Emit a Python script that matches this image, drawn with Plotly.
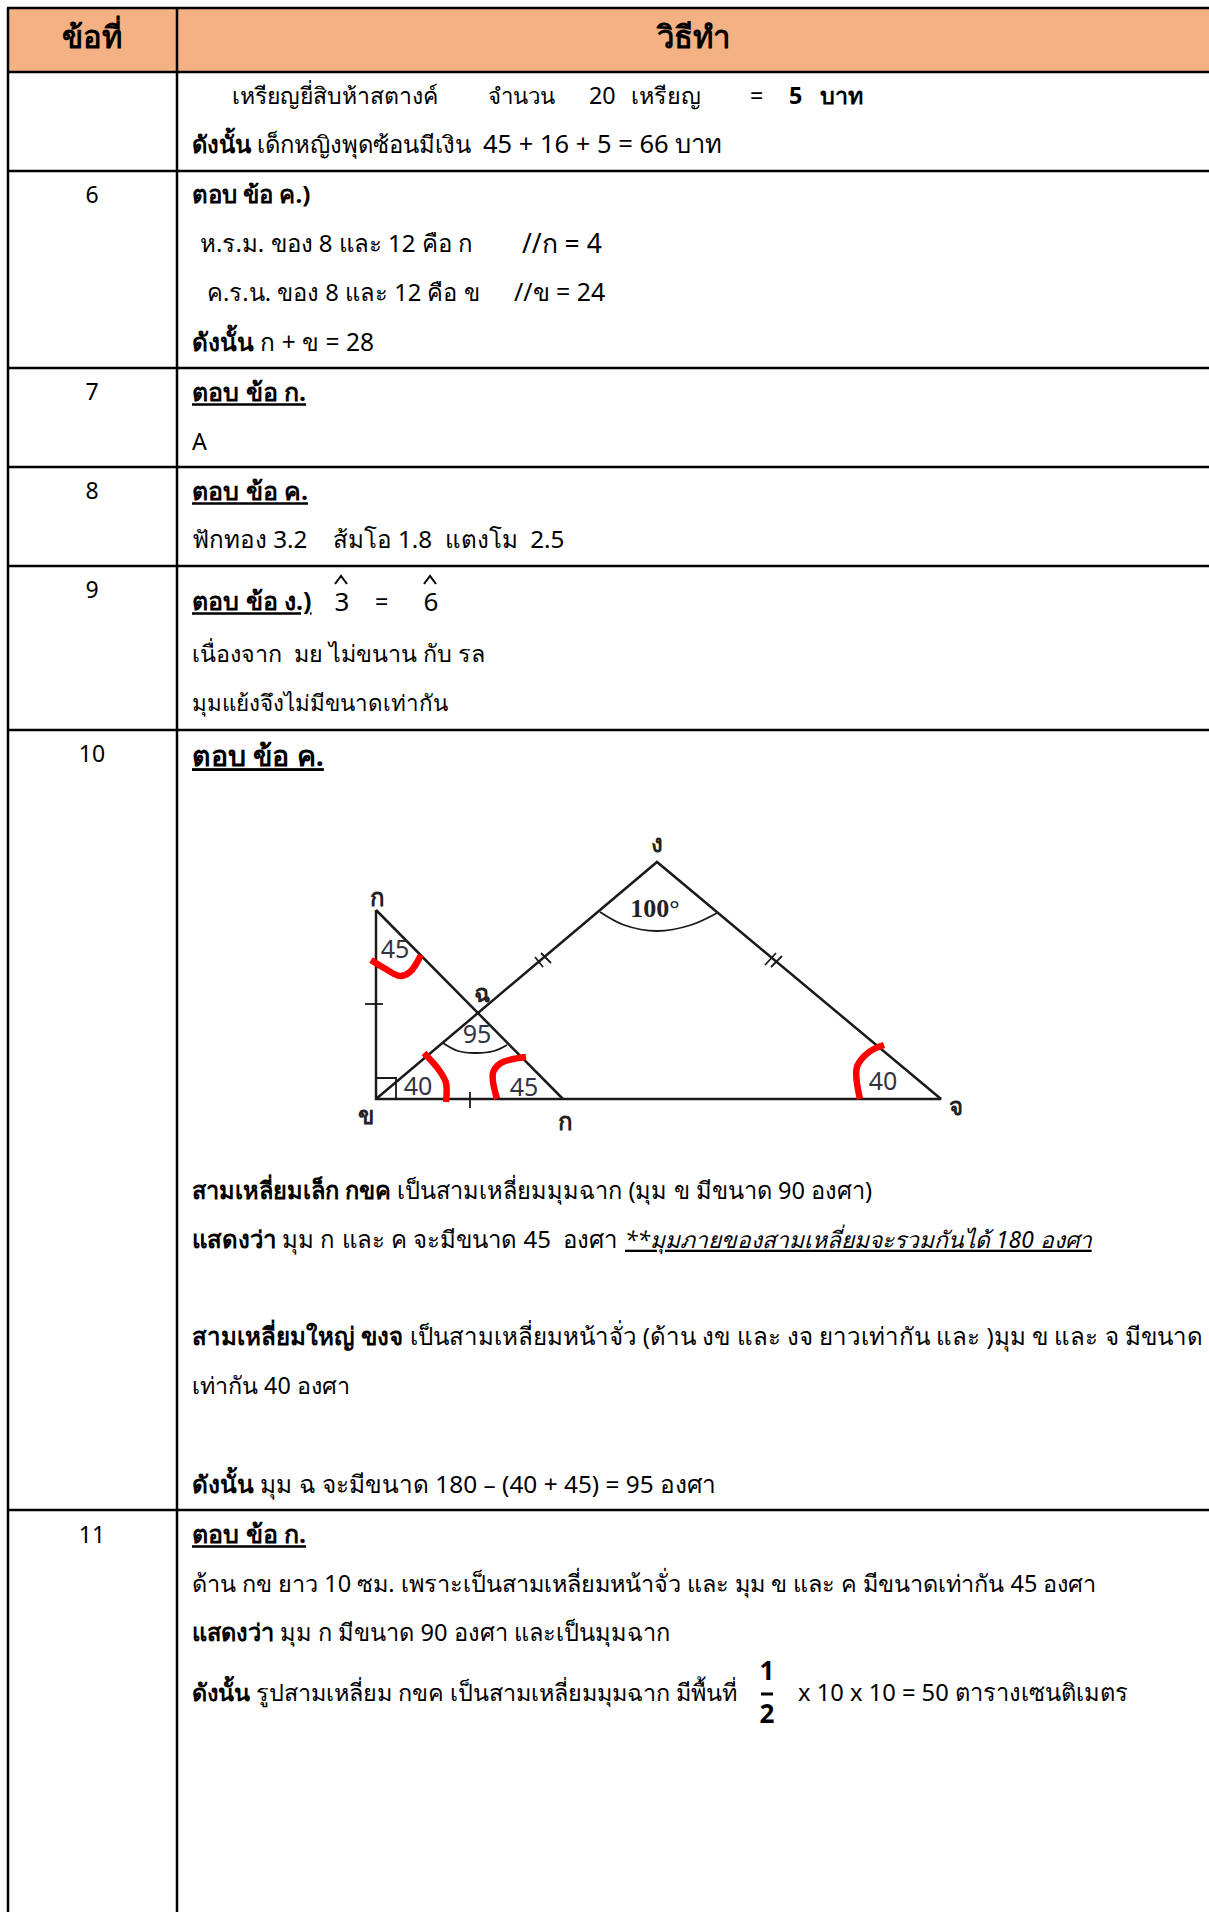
import plotly.graph_objects as go

W, H = 1209, 1912
FONT = "Noto Sans"

# table grid (pixels)
row_edges = [8, 72, 171, 368, 467, 566, 730, 1510]
col_edges = [8, 177]
header_labels = ["ข้อที่", "วิธีทำ"]
header_x = [92, 693]
header_y = [40, 40]

question_numbers = ["6", "7", "8", "9", "10", "11"]
question_y = [197, 394, 493, 592, 756, 1537]
question_x = [92] * len(question_numbers)

# plain lines of the answer column
plain_text = [
    "เหรียญยี่สิบห้าสตางค์", "จำนวน", "20", "เหรียญ", "=", "<b>5</b>", "<b>บาท</b>",
    "<b>ดังนั้น</b> เด็กหญิงพุดซ้อนมีเงิน", "45 + 16 + 5 = 66 บาท",
    "<b>ตอบ ข้อ ค.)</b>",
    "ห.ร.ม. ของ 8 และ 12 คือ ก", "//ก = 4",
    "ค.ร.น. ของ 8 และ 12 คือ ข", "//ข = 24",
    "<b>ดังนั้น</b> ก + ข = 28",
    "A",
    "ฟักทอง 3.2    ส้มโอ 1.8  แตงโม  2.5",
    "=",
    "เนื่องจาก  มย ไม่ขนาน กับ รล",
    "มุมแย้งจึงไม่มีขนาดเท่ากัน",
    "<b>สามเหลี่ยมเล็ก กขค</b> เป็นสามเหลี่ยมมุมฉาก (มุม ข มีขนาด 90 องศา)",
    "<b>แสดงว่า</b> มุม ก และ ค จะมีขนาด 45  องศา",
    "<b>สามเหลี่ยมใหญ่ ขงจ</b> เป็นสามเหลี่ยมหน้าจั่ว (ด้าน งข และ งจ ยาวเท่ากัน และ )มุม ข และ จ มีขนาด",
    "เท่ากัน 40 องศา",
    "<b>ดังนั้น</b> มุม ฉ จะมีขนาด 180 – (40 + 45) = 95 องศา",
    "ด้าน กข ยาว 10 ซม. เพราะเป็นสามเหลี่ยมหน้าจั่ว และ มุม ข และ ค มีขนาดเท่ากัน 45 องศา",
    "<b>แสดงว่า</b> มุม ก มีขนาด 90 องศา และเป็นมุมฉาก",
    "<b>ดังนั้น</b> รูปสามเหลี่ยม กขค เป็นสามเหลี่ยมมุมฉาก มีพื้นที่",
    "x 10 x 10 = 50 ตารางเซนติเมตร",
]
plain_x = [232, 488, 589, 631, 750, 789, 820, 192, 483, 192, 200, 522, 207, 514, 192, 192, 192,
           375, 192, 192, 192, 192, 192, 192, 192, 192, 192, 192, 798]
plain_y = [98, 98, 98, 98, 98, 98, 98, 147, 147, 197, 246, 246, 295, 295, 345, 444, 542,
           604, 656, 705, 1193, 1242, 1339, 1388, 1487, 1586, 1635, 1695, 1695]
plain_size = [23, 22.2, 23.3, 23.3, 23.3, 23.3, 23.3, 23.8, 25.5, 24, 24, 26.5, 23.7, 24.9, 24.5, 23.3, 24.2,
              23.3, 23.3, 22.4, 23.6, 24, 24.1, 23.3, 24.4, 23.5, 23.6, 23.4, 23.7]

# the two angle names with a hat above them
angle_names = ["3", "6"]
angle_name_x = [342, 431]
angle_name_y = [604, 604]
hat_x = [335, 341, 347, None, 424, 430, 436]
hat_y = [584, 576, 584, None, 584, 576, 584]

# underlined bold headings
answer_text = ["ตอบ ข้อ ก.", "ตอบ ข้อ ค.", "ตอบ ข้อ ง.)", "ตอบ ข้อ ค.", "ตอบ ข้อ ก."]
answer_x = [192, 192, 192, 192, 192]
answer_y = [395, 494, 604, 759, 1537]
answer_size = [25, 25, 25, 28.5, 25]
note_text = ["<i>**มุมภายของสามเหลี่ยมจะรวมกันได้ 180 องศา</i>"]

fraction_text = ["1", "2"]

# the triangle figure
figure_outer_x = [376, 376, 941, 657, 376]
figure_outer_y = [910, 1099, 1099, 862, 1099]
figure_inner_x = [376, 563]
figure_inner_y = [910, 1099]
square_x = [376, 396, 396]
square_y = [1078, 1078, 1099]
arc_100_x = [600, 624, 657, 691, 717]
arc_100_y = [912, 925, 931, 925, 913]
arc_95_x = [443, 458, 475, 494, 507]
arc_95_y = [1043, 1051, 1053, 1051, 1045]
tick_x = [365, 383, None, 470, 470, None, 535, 543, None, 541, 551, None, 765, 776, None, 771, 782]
tick_y = [1004, 1004, None, 1092, 1108, None, 957, 967, None, 953, 963, None, 965, 953, None, 967, 956]
red_x = [[371, 384, 400, 410, 421], [424, 439, 446, 446], [526, 501, 493, 497], [884, 869, 857, 860]]
red_y = [[960, 968, 976, 972, 955], [1053, 1070, 1083, 1102], [1057, 1063, 1073, 1099], [1045, 1052, 1067, 1099]]
vertex_labels = ["ก", "ข", "ก", "จ", "ง", "ฉ"]
vertex_x = [377, 366, 565, 956, 657, 482]
vertex_y = [900, 1118, 1124, 1109, 846, 996]
angle_labels = ["45", "95", "40", "45", "40"]
angle_x = [395, 477, 418, 524, 883]
angle_y = [952, 1037, 1089, 1090, 1084]

fig = go.Figure()


def add_text(x, y, text, size, pos="middle right", color="black", family=FONT, lineposition=None):
    font = dict(family=family, size=size, color=color)
    if lineposition:
        font["lineposition"] = lineposition
    fig.add_trace(go.Scatter(x=x, y=y, text=text, mode="text", textposition=pos, textfont=font,
                             cliponaxis=False, hoverinfo="skip", showlegend=False))


def add_line(x, y, color="#1a1a1a", width=2.5, shape="linear"):
    fig.add_trace(go.Scatter(x=x, y=y, mode="lines", line=dict(color=color, width=width, shape=shape),
                             connectgaps=False, hoverinfo="skip", showlegend=False))


# header band and table rules
fig.add_shape(type="rect", x0=col_edges[0], x1=W, y0=row_edges[0], y1=row_edges[1],
              fillcolor="#F4B183", line_width=0, layer="below")
for y in row_edges:
    fig.add_shape(type="line", x0=col_edges[0] - 1, x1=W, y0=y, y1=y, line=dict(color="black", width=2.5))
for x in col_edges:
    fig.add_shape(type="line", x0=x, x1=x, y0=row_edges[0], y1=H, line=dict(color="black", width=2.5))

add_text(header_x, header_y, [f"<b>{t}</b>" for t in header_labels], 31, pos="middle center")
add_text(question_x, question_y, question_numbers, 23, pos="middle center")

add_text(plain_x, plain_y, plain_text, plain_size)
add_text(angle_name_x, angle_name_y, angle_names, 26, pos="middle center")
add_line(hat_x, hat_y, color="black", width=2)
for i, t in enumerate(answer_text):
    add_text([answer_x[i]], [answer_y[i]], [f"<b>{t}</b>"], answer_size[i], lineposition="under")
add_text([625], [1242], note_text, 22.8, lineposition="under")
add_text([767, 767], [1673, 1716], [f"<b>{t}</b>" for t in fraction_text], 26, pos="middle center")
add_line([761, 773], [1694, 1694], color="black", width=3)

add_line(figure_outer_x, figure_outer_y)
add_line(figure_inner_x, figure_inner_y)
add_line(square_x, square_y, width=1.8)
add_line(arc_100_x, arc_100_y, width=1.8, shape="spline")
add_line(arc_95_x, arc_95_y, width=1.8, shape="spline")
add_line(tick_x, tick_y, width=1.8)
for rx, ry in zip(red_x, red_y):
    add_line(rx, ry, color="#FF0000", width=6.5, shape="spline")
add_text(vertex_x, vertex_y, [f"<b>{t}</b>" for t in vertex_labels], 24, pos="middle center", color="#222222")
add_text(angle_x, angle_y, angle_labels, 25, pos="middle center", color="#333344")
add_text([655], [910], ["<b>100°</b>"], 26, pos="middle center", color="#222222", family="Liberation Serif")

fig.update_layout(
    width=W, height=H, margin=dict(l=0, r=0, t=0, b=0),
    paper_bgcolor="white", plot_bgcolor="white", showlegend=False,
    xaxis=dict(range=[0, W], visible=False, fixedrange=True),
    yaxis=dict(range=[H, 0], visible=False, fixedrange=True),
)
# the page's default body margin would push the table 8px off
fig.write_html("out.html", config={"displayModeBar": False}, post_script="document.body.style.margin='0';")
